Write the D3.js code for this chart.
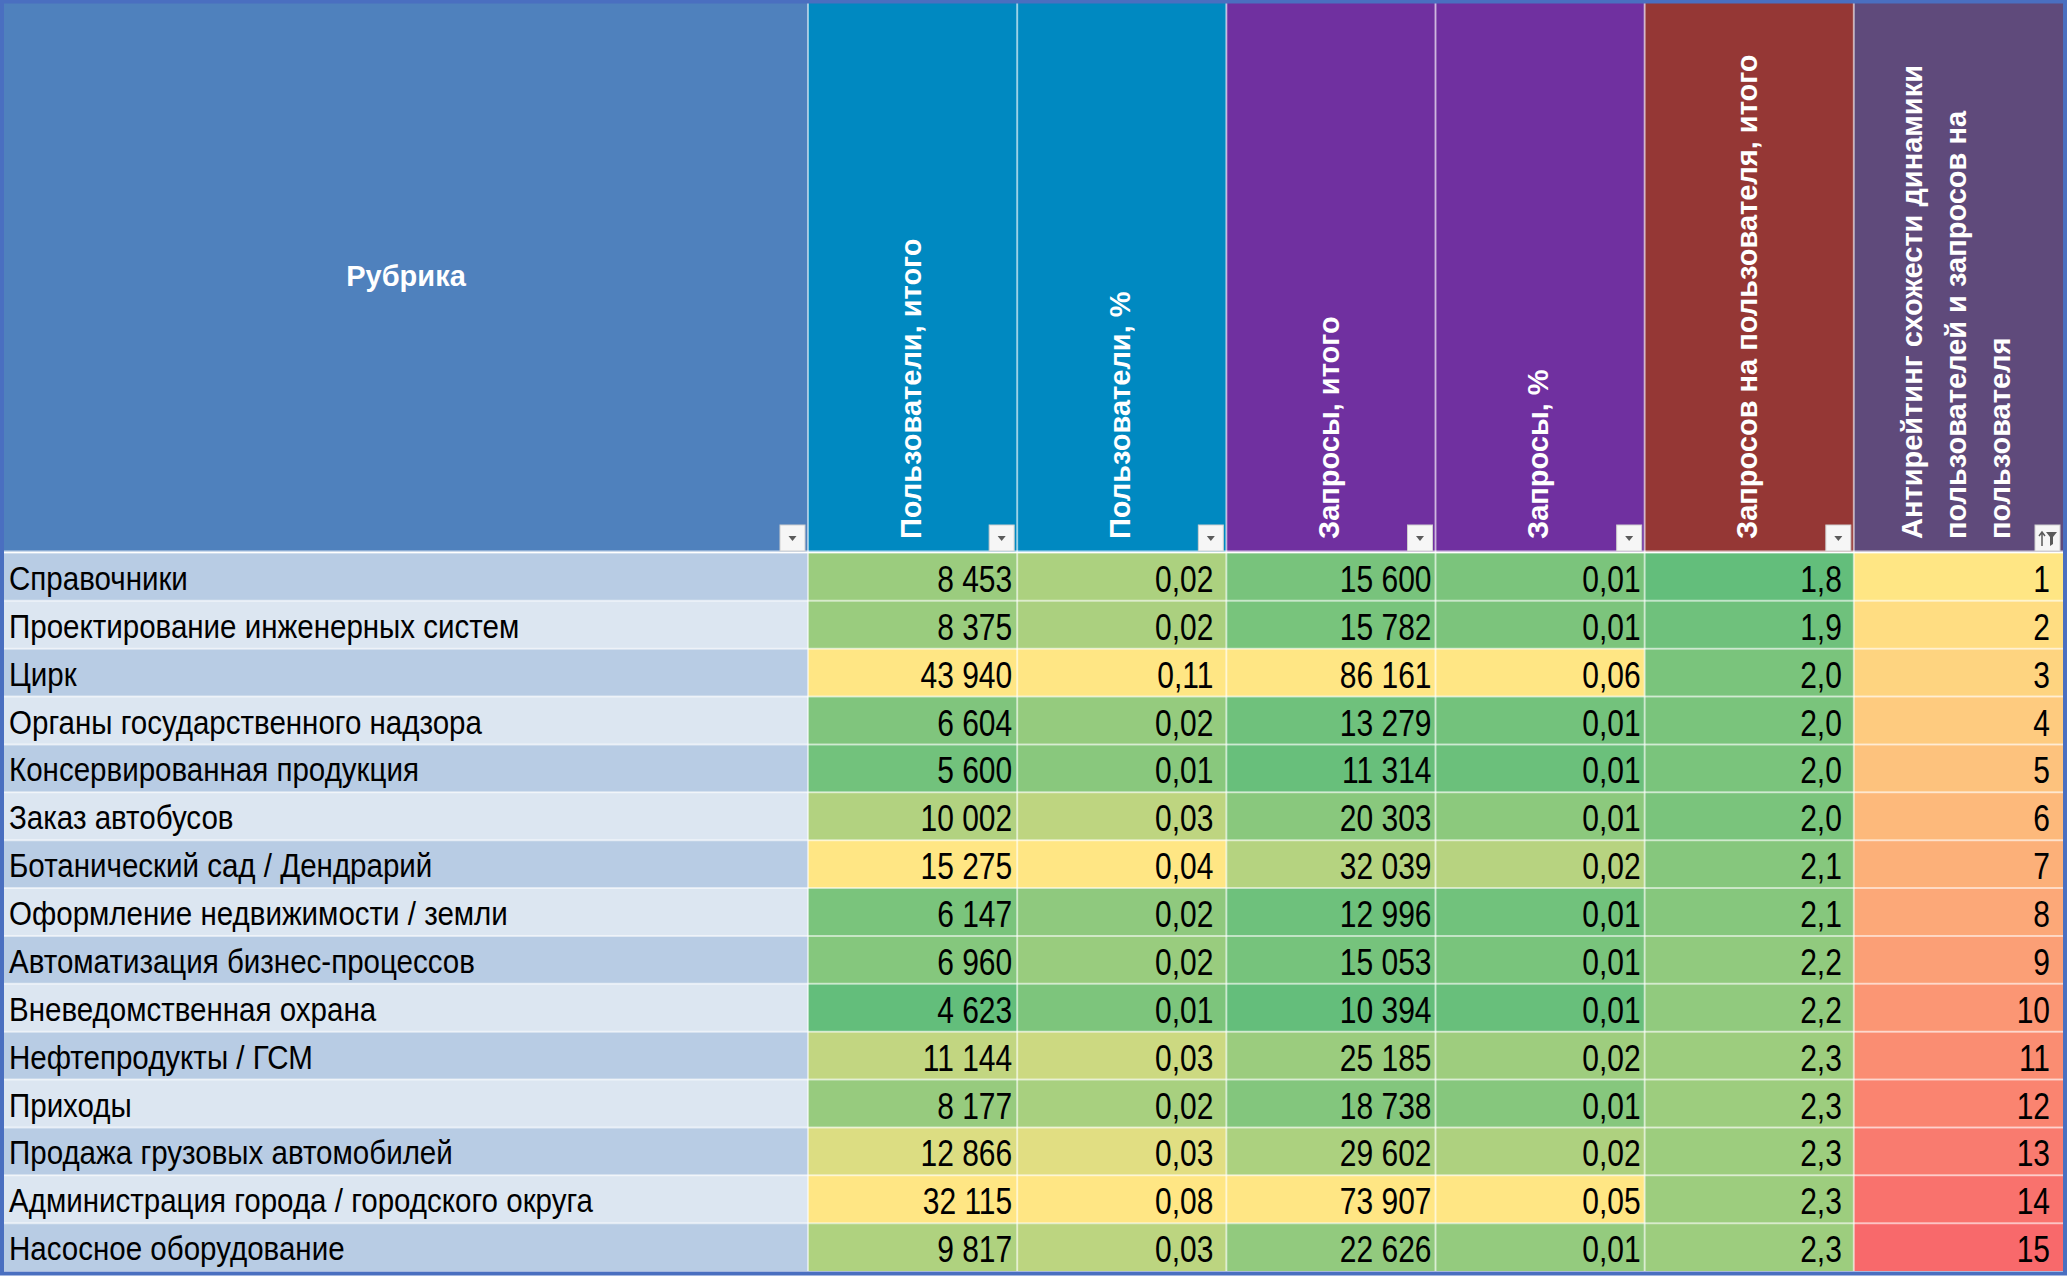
<!DOCTYPE html>
<html lang="ru">
<head>
<meta charset="utf-8">
<title>Антирейтинг рубрик</title>
<script src="https://d3js.org/d3.v7.min.js"></script>
<style>
  html, body { margin: 0; padding: 0; overflow: hidden; background: #ffffff; }
  svg { display: block; }
</style>
</head>
<body>
<script>
const categories = [
  "Справочники",
  "Проектирование инженерных систем",
  "Цирк",
  "Органы государственного надзора",
  "Консервированная продукция",
  "Заказ автобусов",
  "Ботанический сад / Дендрарий",
  "Оформление недвижимости / земли",
  "Автоматизация бизнес-процессов",
  "Вневедомственная охрана",
  "Нефтепродукты / ГСМ",
  "Приходы",
  "Продажа грузовых автомобилей",
  "Администрация города / городского округа",
  "Насосное оборудование"
];
const users       = [8453, 8375, 43940, 6604, 5600, 10002, 15275, 6147, 6960, 4623, 11144, 8177, 12866, 32115, 9817];
const usersPct    = [0.02, 0.02, 0.11, 0.02, 0.01, 0.03, 0.04, 0.02, 0.02, 0.01, 0.03, 0.02, 0.03, 0.08, 0.03];
const requests    = [15600, 15782, 86161, 13279, 11314, 20303, 32039, 12996, 15053, 10394, 25185, 18738, 29602, 73907, 22626];
const requestsPct = [0.01, 0.01, 0.06, 0.01, 0.01, 0.01, 0.02, 0.01, 0.01, 0.01, 0.02, 0.01, 0.02, 0.05, 0.01];
const perUser     = [1.8, 1.9, 2.0, 2.0, 2.0, 2.0, 2.1, 2.1, 2.2, 2.2, 2.3, 2.3, 2.3, 2.3, 2.3];
const antiRating  = [1, 2, 3, 4, 5, 6, 7, 8, 9, 10, 11, 12, 13, 14, 15];

const labelHeader = "Рубрика";
const columnHeaders = [
  ["Пользователи, итого"],
  ["Пользователи, %"],
  ["Запросы, итого"],
  ["Запросы, %"],
  ["Запросов на пользователя, итого"],
  ["Антирейтинг схожести динамики", "пользователей и запросов на", "пользователя"]
];

// layout
const width = 2067, height = 1276;
const headTop = 3, headBottom = 552, bodyBottom = 1271;
const labelLeft = 4, labelRight = 808, tableRight = 2063;

const green = "#63be7b", yellow = "#ffe684", red = "#f8696b";

const ru = d3.formatLocale({decimal: ",", thousands: "\u00a0", grouping: [3], currency: ["", ""]});

// percentage cells are shaded by the unrounded share, i.e. by the totals they come from
const columns = [
  {values: users,       shade: users,      fmt: ru.format(",d"),  head: "#0089c1", domain: [4600, 15300],  range: [green, yellow], pad: 5},
  {values: usersPct,    shade: users,      fmt: ru.format(".2f"), head: "#0089c1", domain: [2500, 15300],  range: [green, yellow], pad: 13},
  {values: requests,    shade: requests,   fmt: ru.format(",d"),  head: "#7030a0", domain: [10000, 52000], range: [green, yellow], pad: 4},
  {values: requestsPct, shade: requests,   fmt: ru.format(".2f"), head: "#7030a0", domain: [9000, 52000],  range: [green, yellow], pad: 4},
  {values: perUser,     shade: perUser,    fmt: ru.format(".1f"), head: "#953735", domain: [1.8, 3.15],    range: [green, yellow], pad: 12},
  {values: antiRating,  shade: antiRating, fmt: ru.format("d"),   head: "#5f4a7b", domain: [1, 15],        range: [yellow, red],   pad: 13}
];
columns.forEach(c => {
  c.color = d3.scaleLinear().domain(c.domain).range(c.range).clamp(true);
});

const yScale = d3.scaleBand()
  .domain(d3.range(categories.length))
  .range([headBottom + 1, bodyBottom]);

const xScale = d3.scaleBand()
  .domain(d3.range(columns.length))
  .range([labelRight, tableRight]);

const svg = d3.select("body").append("svg")
  .attr("width", width)
  .attr("height", height);

// header cells
svg.append("rect")
  .attr("x", labelLeft).attr("y", headTop)
  .attr("width", labelRight - labelLeft).attr("height", headBottom - headTop)
  .attr("fill", "#4f81bd");

svg.selectAll("rect.head")
  .data(columns)
  .enter().append("rect")
  .attr("class", "head")
  .attr("x", (d, i) => xScale(i))
  .attr("y", headTop)
  .attr("width", xScale.bandwidth())
  .attr("height", headBottom - headTop)
  .attr("fill", d => d.head);

// body: label column
svg.selectAll("rect.label")
  .data(categories)
  .enter().append("rect")
  .attr("class", "label")
  .attr("x", labelLeft)
  .attr("y", (d, i) => yScale(i))
  .attr("width", labelRight - labelLeft)
  .attr("height", yScale.bandwidth())
  .attr("fill", (d, i) => i % 2 === 0 ? "#b8cce4" : "#dce6f1");

svg.selectAll("text.label")
  .data(categories)
  .enter().append("text")
  .attr("class", "label")
  .attr("transform", (d, i) => `translate(9,${yScale(i) + 37}) scale(0.895,1)`)
  .attr("font-family", "'Liberation Sans', Arial, sans-serif")
  .attr("font-size", 33)
  .attr("fill", "#000")
  .text(d => d);

// body: value cells
columns.forEach((col, ci) => {
  const g = svg.append("g");
  g.selectAll("rect")
    .data(col.values)
    .enter().append("rect")
    .attr("x", xScale(ci))
    .attr("y", (d, i) => yScale(i))
    .attr("width", xScale.bandwidth())
    .attr("height", yScale.bandwidth())
    .attr("fill", (d, i) => col.color(col.shade[i]));
  g.selectAll("text")
    .data(col.values)
    .enter().append("text")
    .attr("transform", (d, i) =>
      `translate(${xScale(ci) + xScale.bandwidth() - col.pad},${yScale(i) + 39}) scale(0.81,1)`)
    .attr("text-anchor", "end")
    .attr("font-family", "'Liberation Sans', Arial, sans-serif")
    .attr("font-size", 37)
    .attr("fill", "#000")
    .text(d => col.fmt(d));
});

// grid lines
const grid = svg.append("g")
  .attr("stroke", "#ffffff")
  .attr("stroke-opacity", 0.55)
  .attr("stroke-width", 2);

grid.selectAll("line.row")
  .data(d3.range(1, categories.length))
  .enter().append("line")
  .attr("x1", labelLeft).attr("x2", tableRight)
  .attr("y1", i => yScale(i)).attr("y2", i => yScale(i));

grid.selectAll("line.col")
  .data(d3.range(columns.length))
  .enter().append("line")
  .attr("x1", i => xScale(i)).attr("x2", i => xScale(i))
  .attr("y1", headTop).attr("y2", bodyBottom);

grid.append("line")
  .attr("x1", labelLeft).attr("x2", tableRight)
  .attr("y1", headBottom).attr("y2", headBottom)
  .attr("stroke-width", 3)
  .attr("stroke-opacity", 0.7);

// header texts
svg.append("text")
  .attr("x", (labelLeft + labelRight) / 2)
  .attr("y", 286)
  .attr("text-anchor", "middle")
  .attr("font-family", "'Liberation Sans', Arial, sans-serif")
  .attr("font-weight", "bold")
  .attr("font-size", 29)
  .attr("fill", "#fff")
  .text(labelHeader);

columnHeaders.forEach((lines, ci) => {
  const cx = xScale(ci) + xScale.bandwidth() / 2;
  lines.forEach((line, li) => {
    const bx = cx + 8 + (li - (lines.length - 1) / 2) * 44;
    svg.append("text")
      .attr("transform", `translate(${bx},539) rotate(-90)`)
      .attr("font-family", "'Liberation Sans', Arial, sans-serif")
      .attr("font-weight", "bold")
      .attr("font-size", 29)
      .attr("fill", "#fff")
      .text(line);
  });
});

// filter buttons
const btnRights = [labelRight].concat(d3.range(columns.length).map(i => xScale(i) + xScale.bandwidth()));
btnRights.forEach((r, bi) => {
  const bx = r - 28, by = 525;
  svg.append("rect")
    .attr("x", bx).attr("y", by)
    .attr("width", 25).attr("height", 26)
    .attr("fill", "#f6f6f6")
    .attr("stroke", "#cfcfcf")
    .attr("stroke-width", 1);
  if (bi < btnRights.length - 1) {
    svg.append("path")
      .attr("d", `M${bx + 8.5},${by + 11} L${bx + 16.5},${by + 11} L${bx + 12.5},${by + 16} Z`)
      .attr("fill", "#5a5a5a");
  } else {
    // sorted + filtered icon
    svg.append("path")
      .attr("d", `M${bx + 7},${by + 21} V${by + 8} M${bx + 4},${by + 11} L${bx + 7},${by + 7} L${bx + 10},${by + 11}`)
      .attr("stroke", "#5a5a5a").attr("stroke-width", 1.5).attr("fill", "none");
    svg.append("path")
      .attr("d", `M${bx + 11},${by + 7} H${bx + 22} L${bx + 18},${by + 12} V${by + 19} L${bx + 15},${by + 21} V${by + 12} Z`)
      .attr("fill", "#5a5a5a");
  }
});

// outer frame
svg.append("rect")
  .attr("x", 2).attr("y", 1.5)
  .attr("width", width - 4).attr("height", height - 4)
  .attr("fill", "none")
  .attr("stroke", "#4a6fc0")
  .attr("stroke-width", 4);
</script>
</body>
</html>
